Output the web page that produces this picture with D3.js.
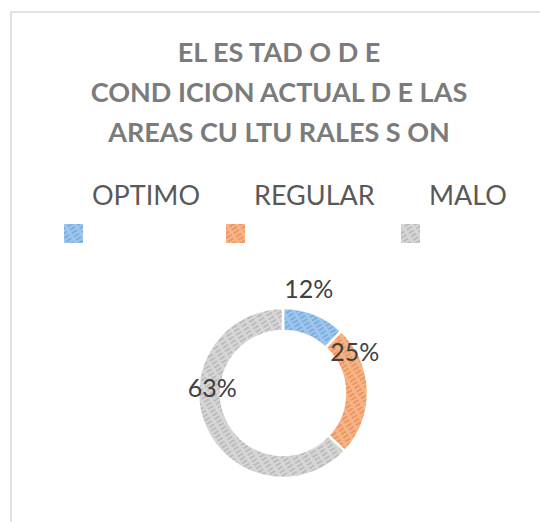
<!DOCTYPE html>
<html>
<head>
<meta charset="utf-8">
<script src="https://cdn.jsdelivr.net/npm/d3@7"></script>
<style>
  body { margin: 0; background: #fff; }
  text { font-family: Lato, "Open Sans", sans-serif; }
</style>
</head>
<body>
<div id="chart"></div>
<script>
// data
var categories = ["OPTIMO", "REGULAR", "MALO"];
var values = [12, 25, 63];
var titleLines = ["EL ES TAD O D E", "COND ICION ACTUAL D E LAS", "AREAS CU LTU RALES S ON"];

var width = 540, height = 522;
var cx = 283, cy = 393, outerR = 85, innerR = 62;

var baseColors = ["#5b9bd5", "#ed7d31", "#a5a5a5"];
var lightColors = ["#9fc5ec", "#f4b48a", "#d6d6d6"];

var svg = d3.select("#chart").append("svg")
  .attr("width", width)
  .attr("height", height);

// chart area border (runs off right/bottom)
svg.append("rect")
  .attr("x", 11).attr("y", 12)
  .attr("width", 600).attr("height", 600)
  .attr("fill", "none")
  .attr("stroke", "#d9d9d9")
  .attr("stroke-width", 1.5);

// hatch patterns
var defs = svg.append("defs");
categories.forEach(function(c, i) {
  var p = defs.append("pattern")
    .attr("id", "hatch" + i)
    .attr("patternUnits", "userSpaceOnUse")
    .attr("width", 9).attr("height", 4)
    .attr("patternTransform", "rotate(-32)");
  p.append("rect").attr("width", 9).attr("height", 4).attr("fill", lightColors[i]);
  p.append("line")
    .attr("x1", 0).attr("y1", 2).attr("x2", 6).attr("y2", 2)
    .attr("stroke", baseColors[i])
    .attr("stroke-opacity", 0.85)
    .attr("stroke-width", 1.3);
});

// title
svg.append("g").selectAll("text")
  .data(titleLines)
  .enter().append("text")
    .attr("x", 279)
    .attr("y", function(d, i) { return 62 + i * 40; })
    .attr("text-anchor", "middle")
    .style("font-size", "27px")
    .style("font-weight", "bold")
    .style("fill", "#7b7b7b")
    .text(function(d) { return d; });

// legend
var legendX = d3.scaleOrdinal().domain(categories).range([64, 226, 401]);
var legend = svg.append("g").selectAll("g")
  .data(categories)
  .enter().append("g")
    .attr("transform", function(d) { return "translate(" + legendX(d) + ",0)"; });
legend.append("text")
  .attr("x", 28).attr("y", 205)
  .style("font-size", "27px")
  .style("fill", "#595959")
  .text(function(d) { return d; });
legend.append("rect")
  .attr("x", 0).attr("y", 224)
  .attr("width", 19).attr("height", 19)
  .attr("fill", function(d, i) { return "url(#hatch" + i + ")"; });

// donut
var pie = d3.pie().sort(null).value(function(d) { return d; });
var arc = d3.arc().innerRadius(innerR).outerRadius(outerR);
var arcs = pie(values);
var g = svg.append("g").attr("transform", "translate(" + cx + "," + cy + ")");
g.selectAll("path")
  .data(arcs)
  .enter().append("path")
    .attr("d", arc)
    .attr("fill", function(d, i) { return "url(#hatch" + i + ")"; })
    .attr("stroke", "#fff")
    .attr("stroke-width", 2.5);

// data labels (polar placement: angle in degrees clockwise from top, radius)
var labelAngle = [14, 60, -86];
var labelRadius = [107, 83, 71];
var total = d3.sum(values);
g.selectAll(".lbl")
  .data(arcs)
  .enter().append("text")
    .attr("class", "lbl")
    .attr("x", function(d, i) { return Math.sin(labelAngle[i] * Math.PI / 180) * labelRadius[i]; })
    .attr("y", function(d, i) { return -Math.cos(labelAngle[i] * Math.PI / 180) * labelRadius[i]; })
    .attr("dy", "0.36em")
    .attr("text-anchor", "middle")
    .style("font-size", "25px")
    .style("fill", "#404040")
    .text(function(d) { return Math.round(d.data / total * 100) + "%"; });
</script>
</body>
</html>
